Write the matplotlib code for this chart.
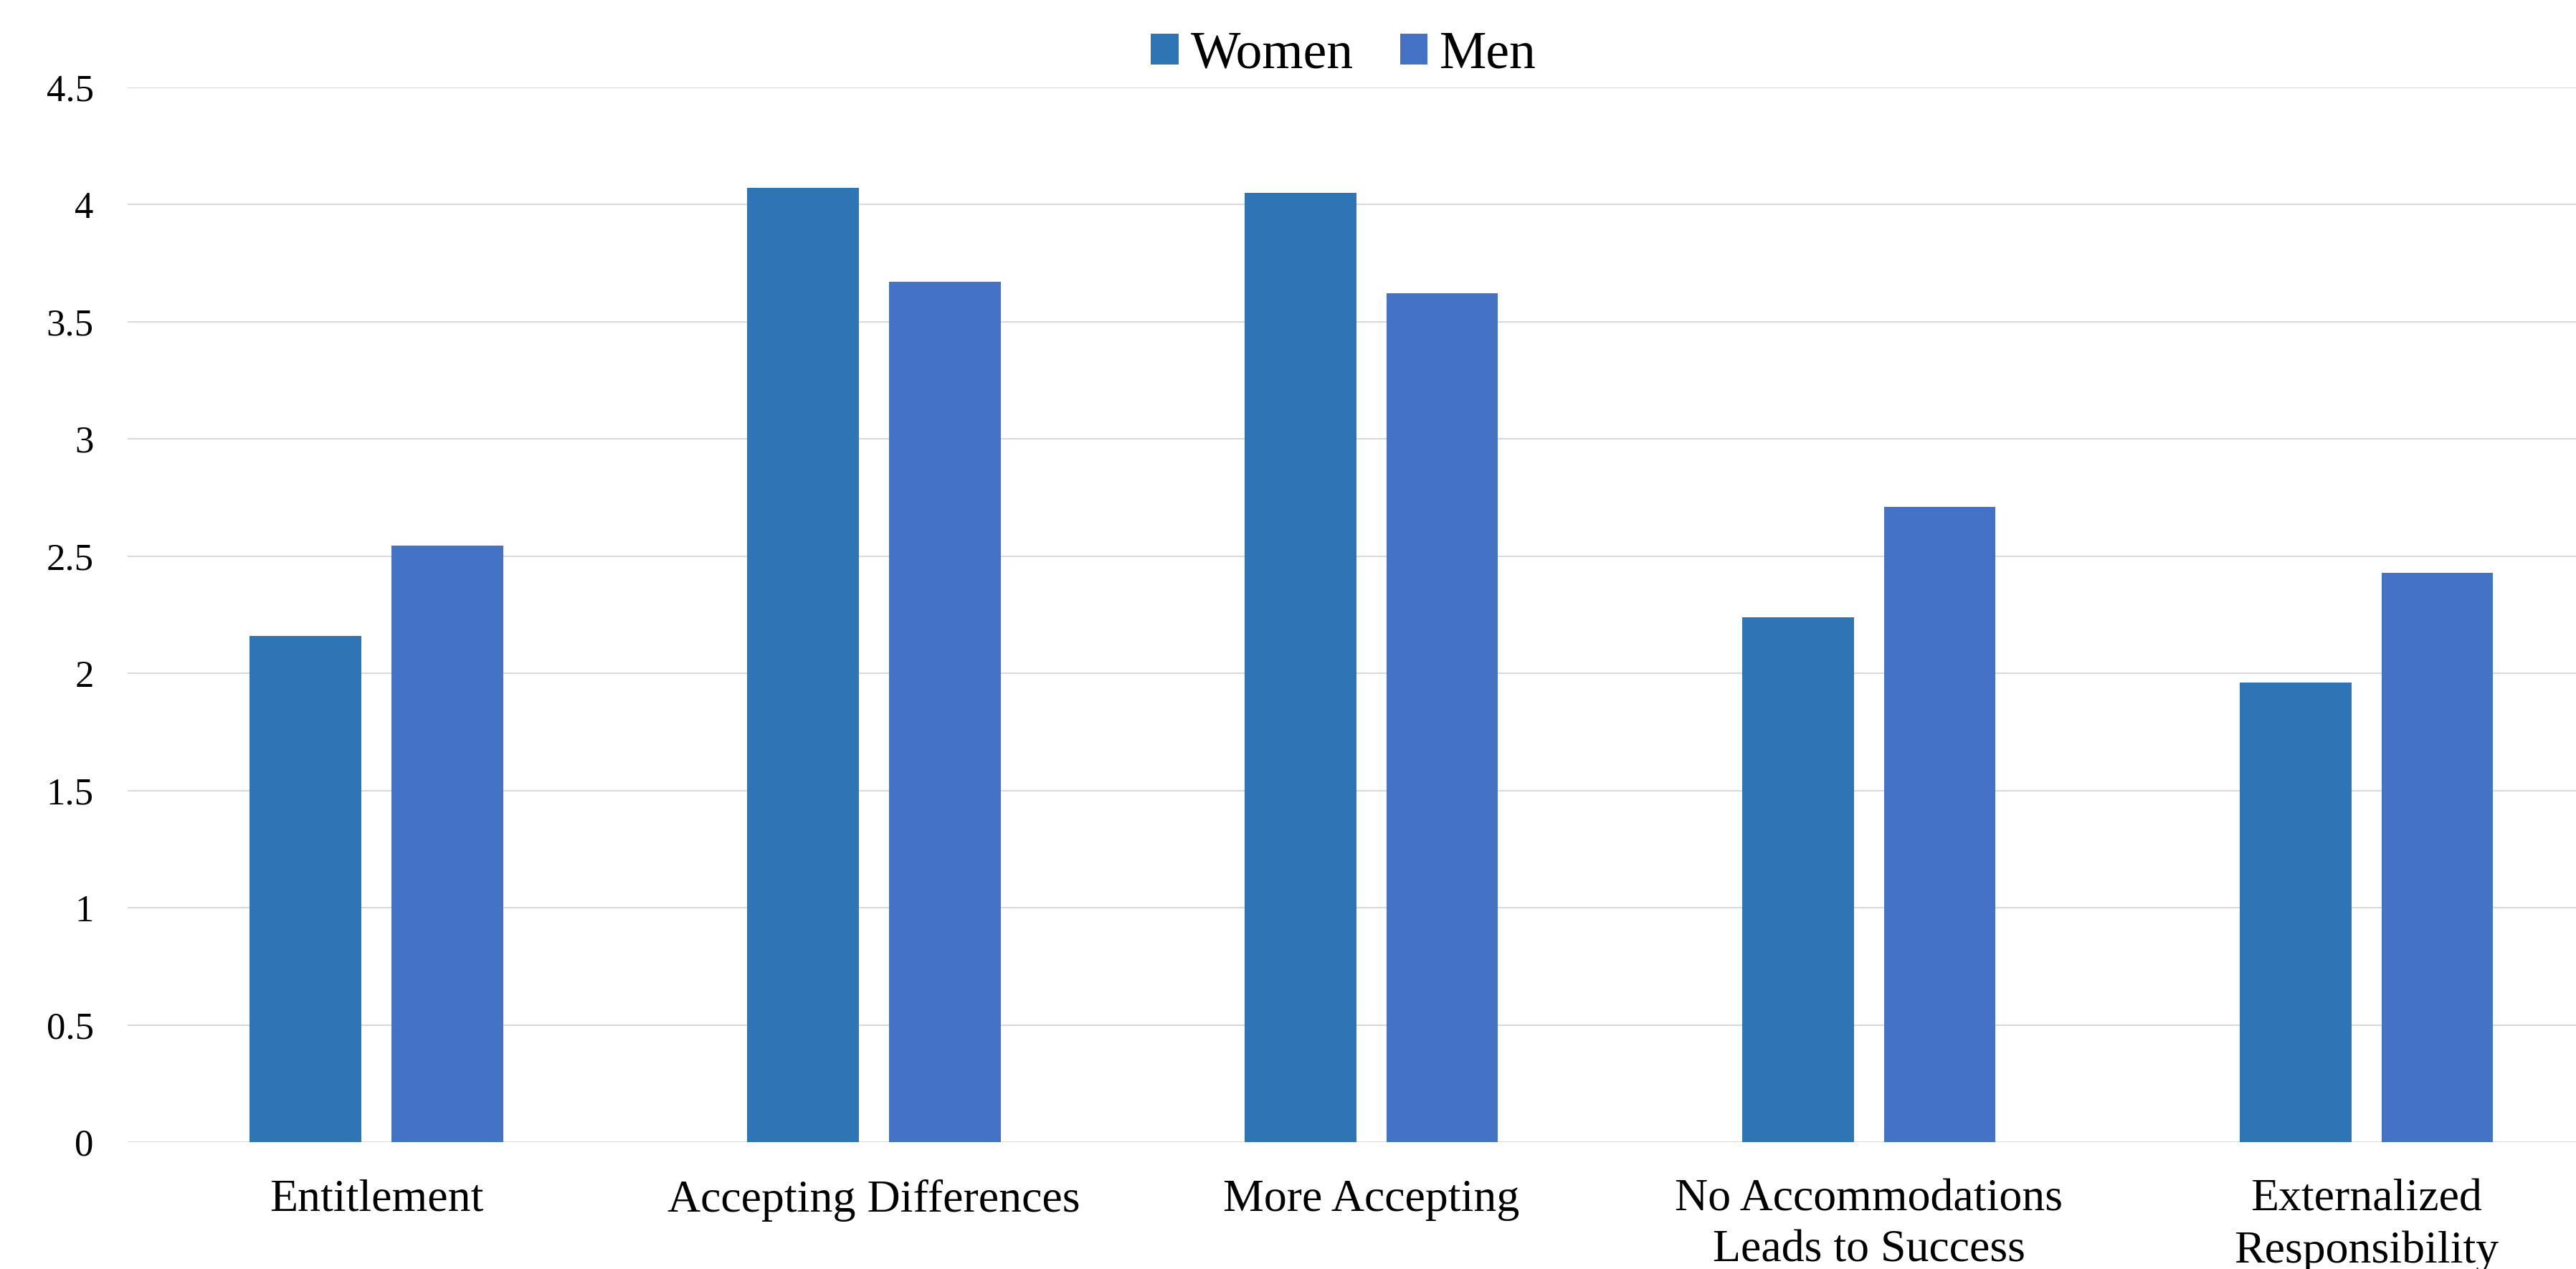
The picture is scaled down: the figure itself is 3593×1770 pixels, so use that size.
import matplotlib
matplotlib.use("Agg")
import matplotlib.pyplot as plt
import numpy as np

categories = ["Entitlement", "Accepting Differences", "More Accepting",
              "No Accommodations\nLeads to Success", "Externalized\nResponsibility"]
women = [2.16, 4.07, 4.05, 2.24, 1.96]
men = [2.545, 3.67, 3.62, 2.71, 2.43]
series_names = ["Women", "Men"]
yticks = [0, 0.5, 1, 1.5, 2, 2.5, 3, 3.5, 4, 4.5]
ytick_labels = ["0", "0.5", "1", "1.5", "2", "2.5", "3", "3.5", "4", "4.5"]

c_women = "#2E75B6"
c_men = "#4472C4"

plt.rcParams['font.family'] = ['Liberation Serif', 'DejaVu Serif']

W, H = 3593, 1770
fig = plt.figure(figsize=(W / 100, H / 100), dpi=100)
ax = fig.add_axes([178 / W, 176.7 / H, 5 * 693.9 / W, (1593.3 - 121.7) / H])

x = np.arange(len(categories))
bw = 0.2244
off = 0.1425
ax.bar(x - off, women, width=bw, color=c_women, label=series_names[0], zorder=3)
ax.bar(x + off, men, width=bw, color=c_men, label=series_names[1], zorder=3)

ax.set_xlim(-0.5, len(categories) - 0.5)
ax.set_ylim(0, 4.5)
ax.set_yticks(yticks)
ax.set_yticklabels(ytick_labels)
ax.set_xticks(x)
ax.set_xticklabels(categories, linespacing=1.3)
ax.tick_params(axis='y', length=0, pad=34, labelsize=38)
ax.tick_params(axis='x', length=0, pad=37, labelsize=46)
ax.grid(axis='y', color='#D9D9D9', linewidth=1.5, zorder=0)
for s in ax.spines.values():
    s.set_visible(False)

fig.legend(loc='center', bbox_to_anchor=(1874 / W, 1 - 77 / H), ncol=2,
           frameon=False, fontsize=53, handlelength=0.52, handleheight=0.52,
           handletextpad=0.23, columnspacing=0.88, borderpad=0, borderaxespad=0)

fig.savefig("out.png", dpi=100, facecolor="white")
